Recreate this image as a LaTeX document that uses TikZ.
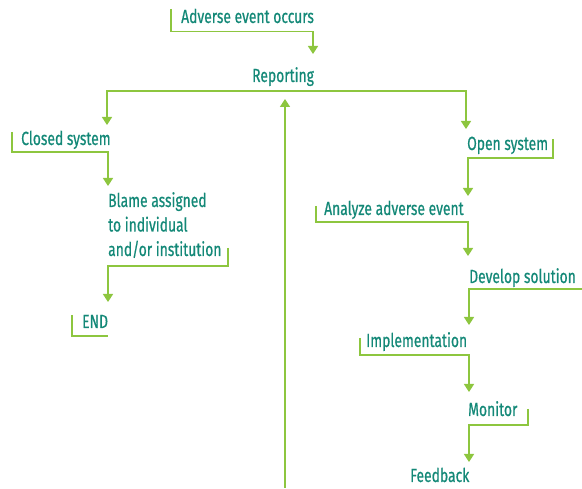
\documentclass[tikz,border=0pt]{standalone}
\usepackage{fontspec}
\setmainfont[FakeStretch=0.73,FakeBold=0.6]{Fira Sans}
\usetikzlibrary{arrows.meta,calc}
\definecolor{txtteal}{RGB}{19,136,119}
\definecolor{lngreen}{RGB}{141,198,63}
\begin{document}
\begin{tikzpicture}[x=1pt,y=-1pt,
  lbl/.style={text=txtteal, font=\fontsize{19}{24.5}\selectfont, inner sep=0pt, anchor=base west},
  conn/.style={draw=lngreen, line width=1.6pt},
  arr/.style={conn, -{Triangle[width=10pt,length=8pt]}}]
\useasboundingbox (0,0) rectangle (582,489);
% labels
\node[lbl] (adv) at (181,23) {Adverse event occurs};
\node[lbl] (rep) at (252,82) {Reporting};
\node[lbl] (closed) at (21,145) {Closed system};
\node[lbl] (blame) at (108,207) {\begin{tabular}[t]{@{}l@{}}Blame assigned\\to individual\\and/or institution\end{tabular}};
\node[lbl] (endn) at (82,328) {END};
\node[lbl] (open) at (467,150) {Open system};
\node[lbl] (analyze) at (324,215) {Analyze adverse event};
\node[lbl] (develop) at (469,283) {Develop solution};
\node[lbl] (impl) at (366,347) {Implementation};
\node[lbl] (monitor) at (468,416) {Monitor};
\node[lbl] (feedback) at (410,482) {Feedback};
\coordinate (loopstart) at (285,488);
% connectors
\draw[arr] ($(adv.base west)+(-10,-14)$) -- ($(adv.base west)+(-10,8.5)$) -| ($(rep.base west)+(61,-28)$);
\draw[arr] ($(rep.base west)+(30,9)$) -| ($(closed.base west)+(86,-20)$);
\draw[arr] ($(rep.base west)+(30,9)$) -| ($(open.base west)+(-1,-21)$);
\draw[arr] (loopstart) -- ($(rep.base west)+(33,17)$);
\draw[arr] ($(closed.base west)+(-9,-13)$) -- ($(closed.base west)+(-9,7)$) -| ($(blame.base west)+(0,-21)$);
\draw[arr] ($(blame.base west)+(120,41)$) -- ($(blame.base west)+(120,59)$) -| ($(endn.base west)+(26,-26)$);
\draw[conn] ($(endn.base west)+(-10,-13)$) -- ($(endn.base west)+(-10,8)$) -- ($(endn.base west)+(26,8)$);
\draw[arr] ($(open.base west)+(86,-11)$) -- ($(open.base west)+(86,8)$) -| ($(analyze.base west)+(144,-19)$);
\draw[arr] ($(analyze.base west)+(-8,-9)$) -- ($(analyze.base west)+(-8,7)$) -| ($(develop.base west)+(-1,-27)$);
\draw[arr] ($(develop.base west)+(113,6)$) -| ($(impl.base west)+(103,-22)$);
\draw[arr] ($(impl.base west)+(-6,-9)$) -- ($(impl.base west)+(-6,8)$) -| ($(monitor.base west)+(1,-24)$);
\draw[arr] ($(monitor.base west)+(60,-7)$) -- ($(monitor.base west)+(60,9)$) -| ($(feedback.base west)+(59,-20)$);
\end{tikzpicture}
\end{document}
